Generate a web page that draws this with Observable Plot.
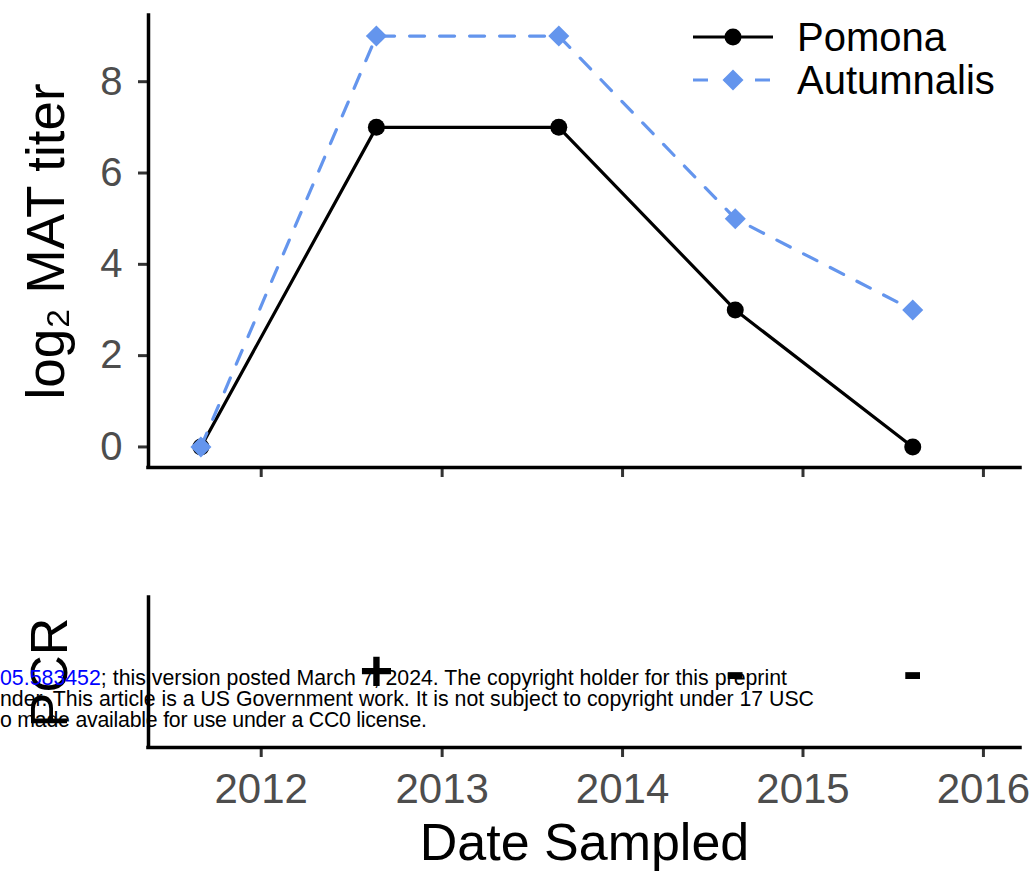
<!DOCTYPE html>
<html>
<head>
<meta charset="utf-8">
<script src="https://cdn.jsdelivr.net/npm/d3@7"></script>
<script src="https://cdn.jsdelivr.net/npm/@observablehq/plot@0.6"></script>
<style>
  html, body { margin: 0; padding: 0; background: #ffffff; }
  #wrap { position: relative; width: 1032px; height: 878px; overflow: hidden;
          font-family: "Liberation Sans", Arial, Helvetica, sans-serif; }
  .layer { position: absolute; left: 0; }
</style>
</head>
<body>
<div id="wrap">
  <div id="topPanel" class="layer" style="top:0px"></div>
  <div id="bottomPanel" class="layer" style="top:500px"></div>
  <div id="legend" class="layer" style="top:0px"></div>
  <div id="notice" class="layer" style="top:0px"></div>
</div>
<script>
// ---- data ----
const sampleDates = ["2011-09-01", "2012-08-21", "2013-08-25", "2014-08-17", "2015-08-11"];
const pomona      = [0, 7, 7, 3, 0];
const autumnalis  = [0, 9, 9, 5, 3];
const pcrResult   = ["", "+", "", "-", "-"];
const seriesNames = ["Pomona", "Autumnalis"];
const seriesColors = ["#000000", "#6495ED"];
const yearTicks   = [2012, 2013, 2014, 2015, 2016];
const titerTicks  = [0, 2, 4, 6, 8];
const xDomain     = ["2011-05-18", "2016-03-16"];
const yDomain     = [-0.45, 9.45];
const noticeLines = [
  ["05.583452", "; this version posted March 7, 2024. The copyright holder for this preprint"],
  ["", "nder. This article is a US Government work. It is not subject to copyright under 17 USC"],
  ["", "o made available for use under a CC0 license."]
];

// ---- derived tables ----
const FONT = "Liberation Sans, Arial, Helvetica, sans-serif";
const dates = sampleDates.map(d => new Date(d));
const pomonaRows = dates.map((d, i) => ({date: d, value: pomona[i], series: seriesNames[0]}));
const autumnalisRows = dates.map((d, i) => ({date: d, value: autumnalis[i], series: seriesNames[1]}));
const pcrRows = dates.map((d, i) => ({date: d, pcr: pcrResult[i]})).filter(r => r.pcr !== "");
const yearDates = yearTicks.map(y => new Date(Date.UTC(y, 0, 1)));
const xDom = xDomain.map(d => new Date(d));

// ---- top panel: MAT titers ----
const topPlot = Plot.plot({
  width: 1032, height: 500,
  marginLeft: 148, marginRight: 12, marginTop: 15, marginBottom: 33,
  style: {fontFamily: FONT, background: "transparent", overflow: "visible"},
  x: {type: "utc", domain: xDom},
  y: {domain: yDomain},
  marks: [
    Plot.axisY({ticks: titerTicks, tickSize: 10, tickPadding: 16, fontSize: 40,
                stroke: "#333333", strokeWidth: 3, fill: "#4d4d4d", label: null}),
    Plot.axisX({ticks: yearDates, tickSize: 10, stroke: "#333333", strokeWidth: 3,
                fill: "none", tickFormat: () => "", label: null}),
    Plot.ruleX([xDom[0]], {stroke: "#000", strokeWidth: 3.5, strokeLinecap: "square"}),
    Plot.ruleY([yDomain[0]], {stroke: "#000", strokeWidth: 3.5, strokeLinecap: "square"}),
    Plot.line(pomonaRows, {x: "date", y: "value", stroke: seriesColors[0], strokeWidth: 3.2}),
    Plot.dot(pomonaRows, {x: "date", y: "value", r: 8.5, fill: seriesColors[0], symbol: "circle"}),
    Plot.line(autumnalisRows, {x: "date", y: "value", stroke: seriesColors[1], strokeWidth: 3.2,
                               strokeDasharray: "15,15"}),
    Plot.dot(autumnalisRows, {x: "date", y: "value", r: 9.5, fill: seriesColors[1], symbol: "diamond2"}),
    Plot.text(["log\u2082 MAT titer"], {frameAnchor: "left", textAnchor: "middle", dx: -101, rotate: -90,
                                        fontSize: 53, fill: "#000", text: d => d})
  ]
});
document.getElementById("topPanel").appendChild(topPlot);

// ---- bottom panel: PCR ----
const bottomPlot = Plot.plot({
  width: 1032, height: 378,
  marginLeft: 148, marginRight: 12, marginTop: 97, marginBottom: 131,
  style: {fontFamily: FONT, background: "transparent", overflow: "visible"},
  x: {type: "utc", domain: xDom},
  y: {domain: [0, 1], axis: null},
  marks: [
    Plot.axisX({ticks: yearDates, tickFormat: d3.utcFormat("%Y"), tickSize: 10, tickPadding: 16,
                fontSize: 42, stroke: "#333333", strokeWidth: 3, fill: "#4d4d4d", label: null}),
    Plot.ruleX([xDom[0]], {stroke: "#000", strokeWidth: 3.5, strokeLinecap: "square"}),
    Plot.ruleY([0], {stroke: "#000", strokeWidth: 3.5, strokeLinecap: "square"}),
    Plot.text(pcrRows, {x: "date", y: 0.5, text: "pcr", fontSize: 58, fontWeight: "bold", fill: "#000"}),
    Plot.text(["Date Sampled"], {frameAnchor: "bottom", dy: 112, fontSize: 52, fill: "#000", text: d => d}),
    Plot.text(["PCR"], {frameAnchor: "left", textAnchor: "middle", dx: -98, rotate: -90,
                        fontSize: 52, fill: "#000", text: d => d})
  ]
});
document.getElementById("bottomPanel").appendChild(bottomPlot);

// ---- legend ----
const leg = d3.select("#legend").append("svg")
  .attr("width", 1032).attr("height", 120)
  .style("font-family", FONT);
const legY = [37, 80];
seriesNames.forEach((name, i) => {
  const g = leg.append("g").attr("transform", `translate(0,${legY[i]})`);
  g.append("line").attr("x1", 693).attr("x2", 773).attr("y1", 0).attr("y2", 0)
    .attr("stroke", seriesColors[i]).attr("stroke-width", 3.2)
    .attr("stroke-dasharray", i === 1 ? "15,16" : null);
  if (i === 0) {
    g.append("circle").attr("cx", 733).attr("cy", 0).attr("r", 8.5).attr("fill", seriesColors[i]);
  } else {
    g.append("path").attr("d", "M733,-10.5L743.5,0L733,10.5L722.5,0Z").attr("fill", seriesColors[i]);
  }
  g.append("text").attr("x", 797).attr("y", 0).attr("dy", "0.35em")
    .attr("font-size", 40).attr("fill", "#000").text(name);
});

// ---- preprint notice overlay ----
const note = d3.select("#notice").append("svg")
  .attr("width", 1032).attr("height", 878)
  .style("font-family", FONT).style("pointer-events", "none");
const noteY = [685, 706, 727];
const noteEnd = [787, 814, 427];
noticeLines.forEach((parts, i) => {
  const t = note.append("text").attr("x", 0).attr("y", noteY[i])
    .attr("font-size", 21.3).attr("fill", "#000")
    .attr("textLength", noteEnd[i]).attr("lengthAdjust", "spacing");
  if (parts[0]) t.append("tspan").attr("fill", "#0000ff").text(parts[0]);
  t.append("tspan").text(parts[1]);
});
</script>
</body>
</html>
